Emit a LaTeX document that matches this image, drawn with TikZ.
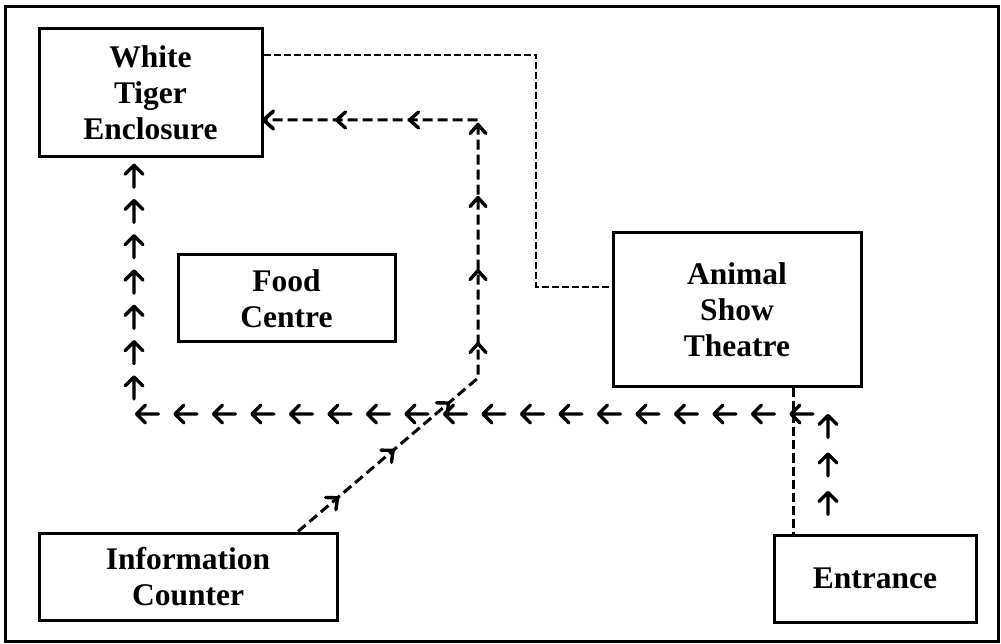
\documentclass[tikz,border=0pt]{standalone}
\usepackage{fontspec}
\setmainfont{Liberation Serif}
\usetikzlibrary{decorations.markings}
\tikzset{
  place/.style={draw, line width=3pt, inner sep=0pt, align=center,
    font=\bfseries\fontsize{31.5}{36}\selectfont},
  trail/.style={line width=3pt, dash pattern=on 10pt off 5pt},
  walkarrow/.style={solid, line width=3.4pt, line cap=round, line join=round},
  footsteps/.style={decoration={markings,
      mark=between positions #1 with {\draw[walkarrow] (-22pt,0) -- (0pt,0) (-9pt,9pt) -- (0pt,0) -- (-9pt,-9pt);}},
    postaction={decorate}},
  chevrons/.style={decoration={markings,
      mark=between positions #1 with {\draw[walkarrow] (-9pt,8pt) -- (0pt,0) -- (-9pt,-8pt);},
      mark=at position 1 with {\draw[walkarrow] (-10pt,9pt) -- (0pt,0) -- (-10pt,-9pt);}},
    postaction={decorate}}
}

\begin{document}
\begin{tikzpicture}[x=1pt,y=1pt]
  \useasboundingbox (0,0) rectangle (1001,643);
  \draw[line width=3pt] (5,2) rectangle (998,636);
  % places
  \node[place, minimum width=223pt, minimum height=128pt] (tiger) at (150.5,550) {White\\Tiger\\Enclosure};
  \node[place, minimum width=217pt, minimum height=87pt] (food) at (286.5,344.5) {Food\\Centre};
  \node[place, minimum width=248pt, minimum height=154pt] (show) at (737,333) {Animal\\Show\\Theatre};
  \node[place, minimum width=298pt, minimum height=87pt] (info) at (188,66.5) {Information\\Counter};
  \node[place, minimum width=202pt, minimum height=87pt] (entrance) at (875,64.5) {Entrance};
  % turning points
  \coordinate (topturn) at (536,588);
  \coordinate (infoturn) at (478,265);
  \coordinate (westturn) at (134,229);
  % routes
  \draw[trail, line width=2.4pt, dash pattern=on 7pt off 3pt] ([yshift=38pt]tiger.east) -- (topturn) |- ([yshift=23pt]show.west);
  \draw[trail, chevrons={52pt and 1 step 73pt}] ([xshift=110pt]info.north) -- (infoturn) |- ([yshift=-27pt]tiger.east);
  \draw[trail, dash pattern=on 9pt off 4pt] ([xshift=56pt]show.south) -- ([xshift=56pt]show.south |- entrance.north);
  % footsteps
  \path[footsteps={41pt and 1 step 38.5pt}] ([xshift=-47pt]entrance.north) |- (westturn);
  \path[footsteps={37pt and 1 step 35.3pt}] (westturn) -- (westturn |- tiger.south);
\end{tikzpicture}
\end{document}
